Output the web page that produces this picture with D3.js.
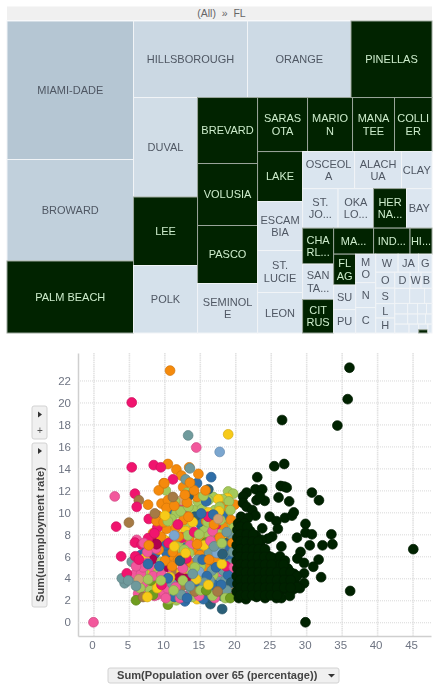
<!DOCTYPE html>
<html><head><meta charset="utf-8">
<script src="https://cdn.jsdelivr.net/npm/d3@7"></script>
<style>
html,body{margin:0;padding:0;background:#fff}
svg{display:block;filter:blur(0.35px)}
text{font-family:"Liberation Sans",Arial,sans-serif}
</style></head><body><div id="chart"></div>
<script>
// ---------- Treemap data ----------
const countyNames = ["MIAMI-DADE","BROWARD","PALM BEACH","HILLSBOROUGH","ORANGE","PINELLAS","DUVAL","LEE","POLK","BREVARD","VOLUSIA","PASCO","SEMINOLE","SARASOTA","MARION","MANATEE","COLLIER","LAKE","ESCAMBIA","ST. LUCIE","LEON","OSCEOLA","ALACHUA","CLAY","ST. JOHNS","OKALOOSA","HERNANDO","BAY","CHARLOTTE","SANTA ROSA","CITRUS","MARTIN","INDIAN RIVER","HIGHLANDS","FLAGLER","SUMTER","PUTNAM","MONROE","NASSAU","COLUMBIA","WALTON","JACKSON","GADSDEN","OKEECHOBEE","SUWANNEE","LEVY","HENDRY","DESOTO","WAKULLA","BAKER","BRADFORD","HARDEE","TAYLOR","WASHINGTON","HOLMES","MADISON","GILCHRIST","DIXIE","GULF","UNION","HAMILTON","JEFFERSON","CALHOUN","GLADES","LIBERTY","LAFAYETTE","FRANKLIN"];
const countyLabels = ["MIAMI-DADE","BROWARD","PALM BEACH","HILLSBOROUGH","ORANGE","PINELLAS","DUVAL","LEE","POLK","BREVARD","VOLUSIA","PASCO","SEMINOL|E","SARAS|OTA","MARIO|N","MANA|TEE","COLLI|ER","LAKE","ESCAM|BIA","ST.|LUCIE","LEON","OSCEOL|A","ALACH|UA","CLAY","ST.|JO...","OKA|LO...","HER|NA...","BAY","CHA|RL...","SAN|TA...","CIT|RUS","MA...","IND...","HI...","FL|AG","SU","PU","M|O","N","C","W","JA","G","O","S","L","H","D","W","B","","","","","","","","","","","","","","","","",""];
const countySizes = [17520,12840,9108,8721,7918,6197,6368,4384,4320,3960,3720,3480,2970,2700,2430,2268,2025,2250,2205,1890,1822,1924,1739,1128,1402,1402,1304,1007,1116,1100,1038,1040,949,572,682,539,517,570,500,510,405,369,243,304,295,275,285,248,176,176,225,225,112,136,105,95,58,130,100,80,65,127,85,30,52,36,28];
const darkCounties = ["PALM BEACH","PINELLAS","LEE","BREVARD","VOLUSIA","PASCO","SARASOTA","MARION","MANATEE","COLLIER","LAKE","HERNANDO","CHARLOTTE","CITRUS","MARTIN","INDIAN RIVER","HIGHLANDS","FLAGLER","GLADES"];
// nesting order of the squarified cells: [direction, ...children]
const cellNesting = ["h",["v","MIAMI-DADE","BROWARD","PALM BEACH"],
   ["v",["h","HILLSBOROUGH","ORANGE","PINELLAS"],
    ["h",["v","DUVAL","LEE","POLK"],["v","BREVARD","VOLUSIA","PASCO","SEMINOLE"],
     ["v",["h","SARASOTA","MARION","MANATEE","COLLIER"],
      ["h",["v","LAKE","ESCAMBIA","ST. LUCIE","LEON"],
       ["v",["h","OSCEOLA","ALACHUA","CLAY"],["h","ST. JOHNS","OKALOOSA","HERNANDO","BAY"],
        ["h",["v","CHARLOTTE","SANTA ROSA","CITRUS"],
         ["v",["h","MARTIN","INDIAN RIVER","HIGHLANDS"],
          ["h",["v","FLAGLER","SUMTER","PUTNAM"],["v","MONROE","NASSAU","COLUMBIA"],
           ["v",["h","WALTON","JACKSON","GADSDEN"],
            ["h",["v","OKEECHOBEE","SUWANNEE","LEVY","HENDRY"],
             ["v",["h","DESOTO","WAKULLA","BAKER"],["h","BRADFORD","HARDEE","TAYLOR"],["h","WASHINGTON","HOLMES","MADISON","GILCHRIST"],["h","DIXIE","GULF","UNION","HAMILTON"],
              ["h","JEFFERSON","CALHOUN",["v","LIBERTY","GLADES"],"LAFAYETTE"]]]]]]]]]]]]];
// ---------- Scatter data (x: population over 65 %, y: unemployment rate) ----------
const crimsonPts = [[5.4,20],[5.4,14.1],[8.5,14.3],[9.5,14.1],[11.2,13],[5.85,11.7],[6.1,10.5],[7.8,9.4],[3.2,8.7],[3.9,6],[5.85,7.25],[6.8,7.05],[7.7,7.65],[5.9,6],[4.7,4.45],[13,9.75],[12.1,10.7],[17.25,8.85],[15,5.4],[9,8.6],[8.6,8.1],[10.6,7.2],[12.5,7.7],[16.2,9.6],[14.2,8.2],[13.1,5.8],[9.6,3.4],[18.7,5.1],[6.4,5.7],[11.9,8.9]];
const magentaPts = [[9,7.5],[8.3,5.7],[10.5,5],[11.6,3.85],[12.2,4.1],[13,3.95],[8.9,7.1]];
const pinkPts = [[0,0],[3,11.45],[14.5,15.9],[6.3,3.4],[6.3,2.6],[9,2.5],[10.8,2.8],[8.2,4.8],[14.4,4.1],[16,3.2],[14.8,3.2],[16.65,6],[18.75,3.25],[6.1,7.5],[7.4,2.8],[8,3.3],[9.9,2.7],[12,2.9],[13,2.4],[7,3.6],[7.1,7.2],[5.9,4.4],[13.8,3.7],[15.7,2.6],[11.2,4.5],[17.7,4.6],[19.4,2.6],[13.6,7],[16.8,8.3],[12.9,2.3],[8.6,2.4],[19.2,4.7],[17.5,7.4],[10.4,3.1],[6.7,4.4],[8.4,4.2],[9.6,4.3],[7.6,5.4],[7,5],[12.2,2.2],[10.2,2.2],[11.6,3.2],[14.9,2.4],[17.1,2.2],[6,5.1],[8.8,6.7],[12.6,4.9],[16.5,7.4],[19.8,5],[7.6,6.4]];
const orangePts = [[10.8,22.9],[10.5,14.4],[11.7,13.9],[13.5,14.1],[14.8,13.5],[12.4,13.35],[12.65,12.3],[9.9,12.65],[9.2,12],[7.7,10.7],[9.6,10.8],[10.5,11.1],[10.3,10.4],[9.1,9.7],[10.3,8.5],[11.6,8.6],[14.1,6.6],[12.2,6.1],[10.9,6],[8.4,8.1],[15,7.4],[16.9,6.7],[16,6.6],[18.05,6.6],[18.3,8.7],[18.05,10.5],[19.9,10.7],[10,12.65],[14.6,11.4],[11.2,6.4],[13.5,7.6],[15,6.1],[11.9,5.6],[13.8,5.4],[15.9,4.9],[17.2,5.5],[18.8,10.2],[12.7,9.3],[11,7.4],[9.5,7.8],[19.3,8],[14.2,12],[15.9,9.2],[13.2,10.9],[8.9,9.2],[9.9,9.1],[11.4,10.6],[13.6,12.7],[15.8,12],[12,7.8],[13.4,9.6],[9.2,6.6],[10.1,5.6],[11.1,5.1],[14.6,7.1],[16.3,5.7],[17.8,7.7],[19.6,7.2],[19.4,9.3],[17,8.9],[12.9,11.6],[7.8,7]];
const limePts = [[10.2,12],[16.9,11.4],[19,11.9],[19.7,11.7],[16.2,11.1],[17.1,10.2],[14.3,10.2],[12.4,8.9],[14.1,8.1],[11.7,9.9],[15.7,3.85],[16.2,2],[11.7,2],[7,4.6],[12.4,7.2],[13.2,11.8],[14.7,11],[15.3,10.3],[18.2,11.2],[18.9,9.8],[13.1,9],[15.7,8.6],[17.2,9.2],[18.6,9],[14.8,9.6],[11.9,2.6],[13.9,2.3],[8,2.9],[10.6,2.1],[6.6,3.1],[12,6.8],[16.3,7.9],[17.8,8],[13.6,4.7],[9.6,5.5],[19.1,11],[17.9,3],[8.8,4.3],[16.9,4.3],[13.5,6.3],[15.1,5.1],[11.5,11],[12.3,10.1],[13.4,10.5],[15.5,11.5],[17.8,10.5],[19.3,10.2],[16.1,9.1],[17.9,9.3],[19.5,9.1],[13.3,7.9],[14.9,8],[16.9,7.1],[11,9.4],[10.5,9.2],[12.8,6.6],[14.3,5],[9.5,3.8],[12.6,3.8],[15.1,2.9],[16.8,2.4],[7.7,3.9],[18.6,2.2],[11.3,2.9],[19.8,8.6],[18.1,7.2]];
const bluePts = [[16.6,13.2],[14.6,12.65],[11,9.8],[16.1,8.25],[16.8,5],[9.7,6.7],[8.65,6.2],[6.65,6.1],[15.3,8.7],[13.1,6.8],[10.3,6.3],[18.4,7.5],[18.6,5.4],[14.9,9.1],[17.2,7.7],[12.7,5.2],[15.5,2.1],[12.9,1.9],[19.1,6.9],[19.5,5.7],[17,3.4],[10.2,7],[7.3,6.3],[11.4,2.3],[15.9,11],[18.2,9.7],[15.4,5.7],[16,4.2],[14.2,3.3],[10.5,4],[19,4.3],[17.3,5],[18,3.4],[13.2,2.2],[15.2,9.9],[16.9,9.8],[9.3,5.1],[7.7,5.3]];
const darkTealPts = [[18.15,1.2],[16.5,1.65],[16.65,2.2],[14.3,9.6],[19,7.25],[13.4,11.5],[16.2,12.1],[18.1,2.4],[19.4,3.6],[12.2,5.6],[18.2,6.2]];
const tealPts = [[13.35,17],[13.6,14],[13,13],[4.4,3.55],[5.6,4.15],[4,4],[5.4,5.5],[17.8,3.9],[17.2,2.8],[19.2,6],[19,6.6],[15.2,6.8],[13.8,2.9],[15.1,4.1],[18.6,3.8],[19.6,4.1],[19.5,2.9],[18.3,4.7],[4.9,3.8],[17.9,5.8],[12.9,3.4],[16.4,3.8],[14.7,5.7],[11.1,3.5],[17.9,6.9],[16.3,6.3],[16.7,4.7],[15.6,3.6],[19.6,7.9],[19.3,5.3],[18.8,2.9],[12.4,2.5],[14,4.4],[13.6,3.3],[6,3.3],[17,6.9],[19.7,6.4],[18.8,8.2]];
const yellowPts = [[19,17.1],[18.9,11.3],[7.3,4.4],[10,7.5],[14.6,2.1],[15.5,7.9],[8.5,3.4],[17.6,11.2],[11.1,2.2],[13,8.3],[18.6,7.5],[9.2,4.7],[16.2,10],[12.4,4.6],[15.8,3.1],[7.2,5.8],[9,3.1],[10.8,4.1],[11.4,6.9],[14,9.1],[15.6,7],[17.7,10.1],[14.5,3.9],[18.1,5.3],[13,6.3],[7.6,2.3],[10.1,9.7],[16.2,3.4]];
const lightBluePts = [[17.8,15.5],[9.1,4.5],[14.9,4.6],[17.4,6.3],[11.4,7.9]];
const olivePts = [[6,2],[10.5,1.6],[8.1,3.8],[8.4,2.5],[15.9,7.25],[15.9,2.9],[19.3,2.2]];
const brownPts = [[6.4,11.1],[5,9.07],[13.2,5],[15,4.7],[11.7,4.5],[10.4,3.55],[12.4,3.25],[8.65,9.9],[14.3,2.8],[7,2.3],[11.2,11.4],[17.5,2.8]];
const tanPts = [[13.5,8.3],[16.6,4],[12.4,11.1],[19.3,3.3],[6.4,3.9],[17.6,9.4]];
const blackPts = [[36.1,23.16],[35.85,20.3],[34.4,17.9],[26.6,18.4],[45.1,6.65],[36.2,2.85],[29.9,0],[25.5,14.2],[26.9,14.4],[23.1,13.2],[30.8,11.8],[31.8,11.1],[26.4,12.4],[26.9,12.35],[27.25,12.25],[22.85,12.1],[23.8,12.1],[26.1,11.35],[27.6,11],[23,11.1],[24.15,11.05],[23.5,11.45],[21.6,11.8],[21.1,11.45],[21.1,10.85],[21.6,10.5],[22.4,10.2],[22.85,9.7],[20.8,9.6],[21.8,9.5],[24.85,9.6],[25.8,9.2],[27,9.5],[28,9.7],[28.25,10],[29.9,8.95],[23.8,8.55],[26,8.5],[25.2,7.8],[24.6,7.6],[29.9,8.15],[30.8,8],[28.7,7.7],[33.55,8],[33.7,7.1],[32.3,7],[30.5,7],[26.5,6.9],[29.2,6.4],[31.75,5.7],[28.75,5.8],[29.7,5.4],[31,5.05],[32.1,4.1],[29.7,4.45],[29.7,3.55],[29.1,3.1],
[20.4,9],[21.3,9],[20.3,8.4],[21.2,8.4],[22.1,8.3],[20.3,7.7],[21.1,7.7],[22,7.7],[22.9,7.9],[23.7,7.5],[20.2,7],[21,7],[21.9,7],[22.8,7],[23.6,6.9],[20.3,6.3],[21.2,6.3],[22,6.3],[22.9,6.3],[23.8,6.3],[24.5,6.1],[20.2,5.6],[21,5.6],[21.9,5.6],[22.8,5.6],[23.7,5.6],[24.6,5.6],[25.5,5.8],[26.3,6],[27,5.6],[20.3,4.9],[21.1,4.9],[22,4.9],[22.9,4.9],[23.8,4.9],[24.7,4.9],[25.6,5],[26.2,5.2],[27.4,4.9],[20.2,4.2],[21,4.2],[21.9,4.2],[22.8,4.2],[23.7,4.2],[24.6,4.2],[25.5,4.2],[26.4,4.1],[27.2,4.3],[28.3,4.4],[20.3,3.5],[21.1,3.5],[22,3.5],[22.9,3.5],[23.8,3.5],[24.7,3.5],[25.6,3.5],[26.5,3.5],[27.3,3.5],[28.4,3.6],[20.2,2.8],[21,2.8],[21.9,2.8],[22.8,2.8],[23.7,2.8],[24.6,2.8],[25.5,2.8],[26.4,2.9],[27.3,2.9],[28.2,3],[20.5,2.2],[21.5,2.1],[23,2.3],[24.2,2.2],[25.8,2.2],[26.5,2.2],[27.7,2.4],
[20.7,8.7],[21.7,8.7],[20.7,8],[21.6,8],[22.5,8],[20.7,7.35],[21.5,7.35],[22.4,7.35],[23.2,7.35],[20.7,6.65],[21.6,6.65],[22.5,6.65],[23.3,6.65],[24.2,6.65],[20.6,5.95],[21.5,5.95],[22.4,5.95],[23.2,5.95],[24.1,5.95],[25,5.95],[20.7,5.25],[21.5,5.25],[22.4,5.25],[23.3,5.25],[24.2,5.25],[25.1,5.25],[26.8,5.25],[20.7,4.55],[21.5,4.55],[22.4,4.55],[23.3,4.55],[24.2,4.55],[25,4.55],[25.9,4.55],[26.9,4.55],[27.8,4.55],[28.7,4.2],[20.7,3.85],[21.5,3.85],[22.4,3.85],[23.3,3.85],[24.2,3.85],[25,3.85],[25.9,3.85],[26.9,3.85],[27.8,3.85],[28.7,3.2],[20.7,3.15],[21.5,3.15],[22.4,3.15],[23.3,3.15],[24.2,3.15],[25,3.15],[25.9,3.15],[26.9,3.15],[27.8,3.15],[20.7,2.45],[21.5,2.45],[22.4,2.45],[23.3,2.45],[24.2,2.45],[25,2.45],[25.9,2.45]];
const pointSeries = [crimsonPts,magentaPts,pinkPts,orangePts,limePts,bluePts,darkTealPts,tealPts,yellowPts,lightBluePts,olivePts,brownPts,tanPts];
const seriesColors = ["#f0146e","#b0004f","#f2589c","#f58a0c","#a5c95a","#2f6ea8","#2a5f78","#6f9a9c","#f7ca18","#7ba6cf","#6f9c1f","#a67a45","#d0a070"];
const blackColor = "#002200";
const xTicks = [0,5,10,15,20,25,30,35,40,45];
const yTicks = [0,2,4,6,8,10,12,14,16,18,20,22];

// ---------- Drawing ----------
const W = 435, H = 688;
const svg = d3.select("#chart").append("svg").attr("width",W).attr("height",H);

// breadcrumb
svg.append("rect").attr("x",7).attr("y",6.5).attr("width",425).attr("height",13.5).attr("fill","#f0f0f0");
svg.append("text").attr("x",221.5).attr("y",17).attr("text-anchor","middle").attr("font-size",10.5).attr("fill","#666").text("(All)\u00a0\u00a0»\u00a0\u00a0FL");

// treemap
const sizeByName = new Map(countyNames.map((n,i)=>[n,countySizes[i]]));
const labelByName = new Map(countyNames.map((n,i)=>[n,countyLabels[i]]));
const root = d3.hierarchy(cellNesting, d => Array.isArray(d) ? d.slice(1) : null)
  .sum(d => Array.isArray(d) ? 0 : sizeByName.get(d));
const layout = d3.treemap().size([425,312]).tile((node,x0,y0,x1,y1)=>{
  (node.data[0]==="h" ? d3.treemapDice : d3.treemapSlice)(node,x0,y0,x1,y1);
});
layout(root);
const lightColor = d3.scaleLinear().domain([500,6000,17520]).range(["#dde7f1","#d2dee8","#b5c6d3"]).clamp(true);
const tm = svg.append("g").attr("transform","translate(7,21)");
const cells = tm.selectAll("g").data(root.leaves()).join("g");
cells.append("rect")
  .attr("x",d=>d.x0).attr("y",d=>d.y0)
  .attr("width",d=>d.x1-d.x0).attr("height",d=>d.y1-d.y0)
  .attr("fill",d=>darkCounties.includes(d.data)?"#012300":lightColor(sizeByName.get(d.data)))
  .attr("stroke",d=>darkCounties.includes(d.data)?"#9aa59a":"#f1f4f7").attr("stroke-width",1);
cells.each(function(d){
  const lines = labelByName.get(d.data).split("|");
  if(!lines[0]) return;
  const cx=(d.x0+d.x1)/2, cy=(d.y0+d.y1)/2;
  d3.select(this).selectAll("text").data(lines).join("text")
    .attr("x",cx).attr("y",(l,i)=>cy+(i-(lines.length-1)/2)*12.5+3.8)
    .attr("text-anchor","middle").attr("font-size",11)
    .attr("fill",darkCounties.includes(d.data)?"#cdeccb":"#4f5763").text(l=>l);
});

// scatter
const x = d3.scaleLinear().domain([-2.18,47.6]).range([78,431]);
const y = d3.scaleLinear().domain([-1.25,24.5]).range([636,353]);
const gridX = svg.append("g").attr("transform","translate(0,636)")
  .call(d3.axisBottom(x).tickValues(xTicks).tickSize(-283).tickSizeOuter(0).tickPadding(5));
const gridY = svg.append("g").attr("transform","translate(78,0)")
  .call(d3.axisLeft(y).tickValues(yTicks).tickSize(-353).tickSizeOuter(0).tickPadding(7));
[gridX,gridY].forEach(g=>{
  g.select(".domain").attr("stroke","#cfcfcf").attr("stroke-width",1.5);
  g.selectAll(".tick text").attr("fill","#6e7482").attr("font-size",11.5).attr("font-family",'"Liberation Sans",Arial,sans-serif');
});
gridX.selectAll(".tick line").attr("stroke","#e2e2e2").attr("stroke-width",1.6).attr("stroke-dasharray","1.5 0.7");
gridY.selectAll(".tick line").attr("stroke","#d8d8d8").attr("stroke-width",1).attr("stroke-dasharray","1 1");
gridX.selectAll(".tick text").attr("dx",-1.5);

const mixed = [];
pointSeries.forEach((pts,s)=>pts.forEach((p,i)=>mixed.push({p,c:seriesColors[s],k:(i+1)/pts.length+s*0.013})));
mixed.sort((a,b)=>d3.ascending(a.k,b.k));
const dots = mixed.concat(blackPts.map(p=>({p,c:blackColor})));
svg.append("g").selectAll("circle").data(dots).join("circle")
  .attr("cx",d=>x(d.p[0])).attr("cy",d=>y(d.p[1])).attr("r",4.9)
  .attr("fill",d=>d.c).attr("stroke",d=>d3.color(d.c).darker(0.45)).attr("stroke-width",0.7);

// axis selector buttons
function btn(xp,yp,w,h){
  svg.append("rect").attr("x",xp).attr("y",yp).attr("width",w).attr("height",h).attr("rx",2)
    .attr("fill","#f0f0f0").attr("stroke","#d2d2d2");
}
btn(32,406,15,33); btn(32,443,15,164); btn(108,668,231,15);
const tri = (cx,cy,pts)=>svg.append("path").attr("transform",`translate(${cx},${cy})`).attr("d",pts).attr("fill","#333");
tri(40,414.5,"M-2,-3L2,0L-2,3Z"); tri(40,451,"M-2,-3L2,0L-2,3Z"); tri(331.5,675.5,"M-3.5,-1.5L3.5,-1.5L0,2Z");
svg.append("text").attr("x",40).attr("y",434).attr("text-anchor","middle").attr("font-size",10).attr("fill","#555").text("+");
svg.append("text").attr("transform","translate(43.5,602) rotate(-90)").attr("font-size",11.2).attr("font-weight","bold").attr("fill","#444").text("Sum(unemployment rate)");
svg.append("text").attr("x",117).attr("y",679).attr("font-size",11.1).attr("font-weight","bold").attr("fill","#444").text("Sum(Population over 65 (percentage))");
</script></body></html>
